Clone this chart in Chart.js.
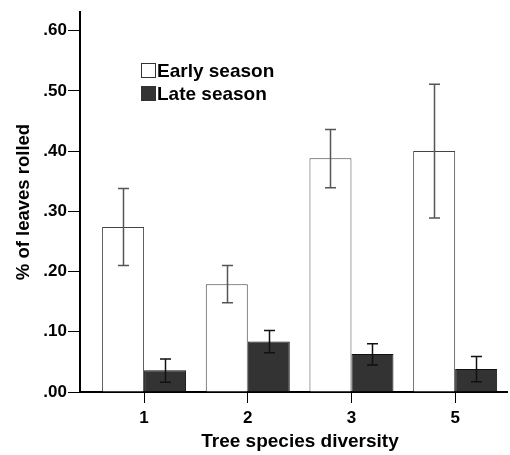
<!DOCTYPE html>
<html>
<head>
<meta charset="utf-8">
<script src="https://cdn.jsdelivr.net/npm/chart.js@4.4.1/dist/chart.umd.min.js"></script>
<style>
  html, body { margin: 0; padding: 0; background: #fff; }
  canvas { display: block; }
</style>
</head>
<body>
<canvas id="chart" width="510" height="455"></canvas>
<script>
// Leaf rolling by tree species diversity, early vs late season
const categories = ['1', '2', '3', '5'];
const earlyMean = [0.274, 0.179, 0.388, 0.400];
const earlyLow  = [0.210, 0.148, 0.339, 0.289];
const earlyHigh = [0.338, 0.210, 0.436, 0.511];
const lateMean  = [0.036, 0.084, 0.063, 0.038];
const lateLow   = [0.016, 0.065, 0.045, 0.017];
const lateHigh  = [0.055, 0.102, 0.080, 0.059];
const yTicks = [0, 0.1, 0.2, 0.3, 0.4, 0.5, 0.6];

const FONT = '"Liberation Sans", Arial, sans-serif';

// whiskers for the confidence intervals
const errorBars = {
    id: 'errorBars',
    afterDatasetsDraw(chart) {
        const ctx = chart.ctx;
        const y = chart.scales.y;
        chart.data.datasets.forEach((ds, di) => {
            const meta = chart.getDatasetMeta(di);
            meta.data.forEach((bar, i) => {
                const top = y.getPixelForValue(ds.errHigh[i]);
                const bot = y.getPixelForValue(ds.errLow[i]);
                const x = Math.round(bar.x) + 0.5;
                ctx.save();
                ctx.strokeStyle = ds.errColor;
                ctx.lineWidth = 1.5;
                ctx.beginPath();
                ctx.moveTo(x, top); ctx.lineTo(x, bot);
                ctx.moveTo(x - 5.5, top); ctx.lineTo(x + 5.5, top);
                ctx.moveTo(x - 5.5, bot); ctx.lineTo(x + 5.5, bot);
                ctx.stroke();
                ctx.restore();
            });
        });
    }
};

// legend inside the plot (top left) and the x axis title
const annotations = {
    id: 'annotations',
    afterDraw(chart) {
        const ctx = chart.ctx;
        const rows = [
            { text: 'Early season', fill: '#ffffff' },
            { text: 'Late season', fill: '#333333' }
        ];
        ctx.save();
        ctx.font = 'bold 19px ' + FONT;
        ctx.textBaseline = 'middle';
        rows.forEach((r, i) => {
            const top = 63 + i * 23;
            ctx.fillStyle = r.fill;
            ctx.fillRect(141, top, 15, 15);
            ctx.strokeStyle = '#333';
            ctx.lineWidth = 1;
            ctx.strokeRect(141.5, top + 0.5, 14, 14);
            ctx.fillStyle = '#000';
            ctx.fillText(r.text, 157, top + 8.5);
        });

        ctx.textAlign = 'center';
        ctx.fillText('Tree species diversity', 300, 442);
        ctx.restore();
    }
};

new Chart(document.getElementById('chart'), {
    type: 'bar',
    data: {
        datasets: [
            {
                label: 'Early season',
                data: earlyMean.map((v, i) => ({ x: i, y: v })),
                errLow: earlyLow,
                errHigh: earlyHigh,
                errColor: '#555555',
                backgroundColor: '#ffffff',
                borderColor: '#444444',
                borderWidth: 1
            },
            {
                label: 'Late season',
                data: lateMean.map((v, i) => ({ x: i, y: v })),
                errLow: lateLow,
                errHigh: lateHigh,
                errColor: '#111111',
                backgroundColor: '#333333',
                borderColor: '#111111',
                borderWidth: 1
            }
        ]
    },
    options: {
        responsive: false,
        animation: false,
        devicePixelRatio: 1,
        categoryPercentage: 0.81,
        barPercentage: 1.0,
        layout: { padding: { top: 12, right: 3, left: 0, bottom: 0 } },
        plugins: { legend: { display: false }, tooltip: { enabled: false } },
        scales: {
            x: {
                type: 'linear',
                offset: false,
                min: -0.618,
                max: 3.5,
                afterBuildTicks: s => { s.ticks = categories.map((c, i) => ({ value: i })); },
                afterFit: s => { s.height = 63; },
                grid: {
                    offset: false,
                    drawOnChartArea: false,
                    tickLength: 11,
                    tickColor: '#000',
                    tickWidth: 1
                },
                border: { display: true, color: '#000', width: 2 },
                ticks: {
                    padding: 5,
                    color: '#000',
                    font: { family: FONT, size: 17, weight: 'bold' },
                    callback: v => categories[v]
                }
            },
            y: {
                min: 0,
                max: 0.631,
                afterBuildTicks: s => { s.ticks = yTicks.map(v => ({ value: v })); },
                afterFit: s => { s.width = 80; },
                grid: {
                    drawOnChartArea: false,
                    tickLength: 12,
                    tickColor: '#000',
                    tickWidth: 1
                },
                border: { display: true, color: '#000', width: 2 },
                ticks: {
                    padding: 1,
                    color: '#000',
                    font: { family: FONT, size: 17, weight: 'bold' },
                    callback: v => v.toFixed(2).replace(/^0/, '')
                },
                title: {
                    display: true,
                    text: '% of leaves rolled',
                    color: '#000',
                    font: { family: FONT, size: 18.5, weight: 'bold' },
                    padding: { top: 12.5, bottom: 0 }
                }
            }
        }
    },
    plugins: [errorBars, annotations]
});
</script>
</body>
</html>
